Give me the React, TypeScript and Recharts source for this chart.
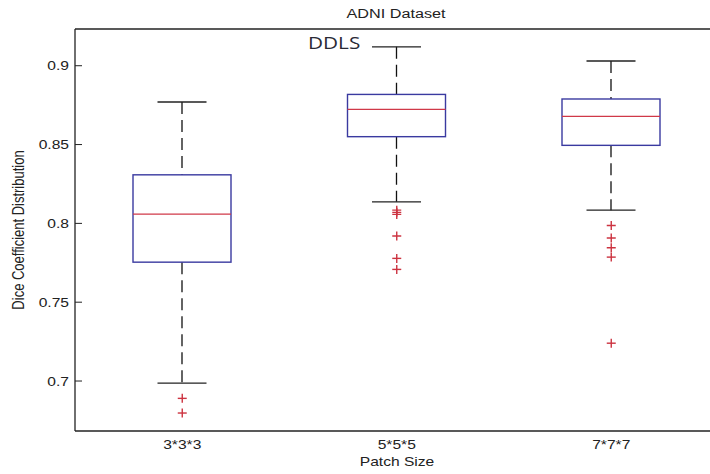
import React from 'react';
import { ComposedChart, Bar, Scatter, XAxis, YAxis, Label } from 'recharts';

const categories = ['3*3*3', '5*5*5', '7*7*7'];
const whiskerLow = [0.6987, 0.8137, 0.8084];
const quartile1 = [0.7754, 0.855, 0.8495];
const medians = [0.8059, 0.8723, 0.8679];
const quartile3 = [0.8308, 0.8818, 0.8789];
const whiskerHigh = [0.877, 0.912, 0.903];
const outliers333 = [0.689, 0.6797];
const outliers555 = [0.8084, 0.807, 0.8057, 0.792, 0.7778, 0.7708];
const outliers777 = [0.7987, 0.7907, 0.7845, 0.7786, 0.724];
const yTicks = [0.7, 0.75, 0.8, 0.85, 0.9];
const yDomain = [0.6683, 0.9233];

const boxData = categories.map((name, i) => ({
  name,
  range: [whiskerLow[i], whiskerHigh[i]],
  lo: whiskerLow[i],
  q1: quartile1[i],
  med: medians[i],
  q3: quartile3[i],
  hi: whiskerHigh[i],
}));

const outlierData = [
  ...outliers333.map((value) => ({ name: categories[0], value })),
  ...outliers555.map((value) => ({ name: categories[1], value })),
  ...outliers777.map((value) => ({ name: categories[2], value })),
];

const FONT = '"Liberation Sans", Arial, Helvetica, sans-serif';
const TEXT = '#222';

const BoxShape = (props: any) => {
  const { x, y, width, height, payload } = props;
  if (payload == null) return null;
  const { lo, q1, med, q3, hi } = payload;
  const top = Math.min(y, y + height);
  const h = Math.abs(height);
  const k = h / (hi - lo);
  const py = (v: number) => top + (hi - v) * k;
  const cx = x + width / 2;
  const cap = width / 4;
  return (
    <g>
      <line x1={cx} x2={cx} y1={py(hi)} y2={py(q3)} stroke="#111" strokeWidth={1.3} strokeDasharray="12 6" />
      <line x1={cx} x2={cx} y1={py(q1)} y2={py(lo)} stroke="#111" strokeWidth={1.3} strokeDasharray="12 6" />
      <line x1={cx - cap} x2={cx + cap} y1={py(hi)} y2={py(hi)} stroke="#222" strokeWidth={1.3} />
      <line x1={cx - cap} x2={cx + cap} y1={py(lo)} y2={py(lo)} stroke="#222" strokeWidth={1.3} />
      <rect x={x} y={py(q3)} width={width} height={py(q1) - py(q3)} fill="none" stroke="#3a3aa0" strokeWidth={1.4} />
      <line x1={x} x2={x + width} y1={py(med)} y2={py(med)} stroke="#d03848" strokeWidth={1.2} />
    </g>
  );
};

const Plus = (props: any) => {
  const { cx, cy } = props;
  if (cx == null || cy == null) return null;
  return (
    <g stroke="#cc3340" strokeWidth={1.4}>
      <line x1={cx - 4.5} x2={cx + 4.5} y1={cy} y2={cy} />
      <line x1={cx} x2={cx} y1={cy - 4.5} y2={cy + 4.5} />
    </g>
  );
};

const YTick = (props: any) => {
  const { x, y, payload } = props;
  return (
    <g>
      <line x1={x + 6} x2={x + 13} y1={y} y2={y} stroke={TEXT} strokeWidth={1} />
      <text
        transform={`translate(${x},${y}) scale(1.2,1)`}
        textAnchor="end"
        dominantBaseline="central"
        fontSize={13}
        fill={TEXT}
        fontFamily={FONT}
      >
        {String(payload.value)}
      </text>
    </g>
  );
};

const XTick = (props: any) => {
  const { x, y, payload } = props;
  return (
    <text
      transform={`translate(${x},${y + 10}) scale(1.2,1)`}
      textAnchor="middle"
      fontSize={13}
      fill={TEXT}
      fontFamily={FONT}
    >
      {payload.value}
    </text>
  );
};

const XTitle = () => (
  <text transform="translate(397,466) scale(1.2,1)" textAnchor="middle" fontSize={13} fill={TEXT} fontFamily={FONT}>
    Patch Size
  </text>
);

const YTitle = () => (
  <g>
    <text
      transform="translate(24,230) scale(1.2,1) rotate(-90)"
      textAnchor="middle"
      fontSize={13}
      fill={TEXT}
      fontFamily={FONT}
    >
      Dice Coefficient Distribution
    </text>
    <text transform="translate(396,18) scale(1.2,1)" textAnchor="middle" fontSize={13.5} fill={TEXT} fontFamily={FONT}>
      ADNI Dataset
    </text>
    <text
      transform="translate(308,49) scale(1.22,1)"
      textAnchor="start"
      fontSize={17}
      fill="#2a2a35"
      fontFamily='"Open Sans", "Noto Sans", sans-serif'
    >
      DDLS
    </text>
  </g>
);

export default function App() {
  return (
    <div style={{ position: 'absolute', left: 0, top: 0, width: 710, height: 474, overflow: 'hidden', background: '#fff' }}>
      <ComposedChart
        width={730}
        height={474}
        data={boxData}
        margin={{ top: 28, right: 11.5, bottom: 0, left: 0 }}
      >
        <XAxis
          dataKey="name"
          type="category"
          allowDuplicatedCategory={false}
          height={43}
          tickSize={0}
          tickMargin={8}
          tickLine={false}
          axisLine={{ stroke: TEXT, strokeWidth: 1.3 }}
          tick={<XTick />}
          interval={0}
        >
          <Label content={<XTitle />} />
        </XAxis>
        <XAxis
          xAxisId="top"
          orientation="top"
          dataKey="name"
          type="category"
          allowDuplicatedCategory={false}
          height={1}
          tick={false}
          tickLine={false}
          axisLine={{ stroke: TEXT, strokeWidth: 1.3 }}
        />
        <YAxis
          type="number"
          domain={yDomain}
          allowDataOverflow
          ticks={yTicks}
          width={75}
          tickSize={0}
          tickMargin={6}
          tickLine={false}
          axisLine={{ stroke: TEXT, strokeWidth: 1.3 }}
          tick={<YTick />}
          interval={0}
        >
          <Label content={<YTitle />} />
        </YAxis>
        <Bar dataKey="range" barSize={98} shape={<BoxShape />} isAnimationActive={false} />
        <Scatter data={outlierData} dataKey="value" shape={<Plus />} isAnimationActive={false} />
      </ComposedChart>
    </div>
  );
}
